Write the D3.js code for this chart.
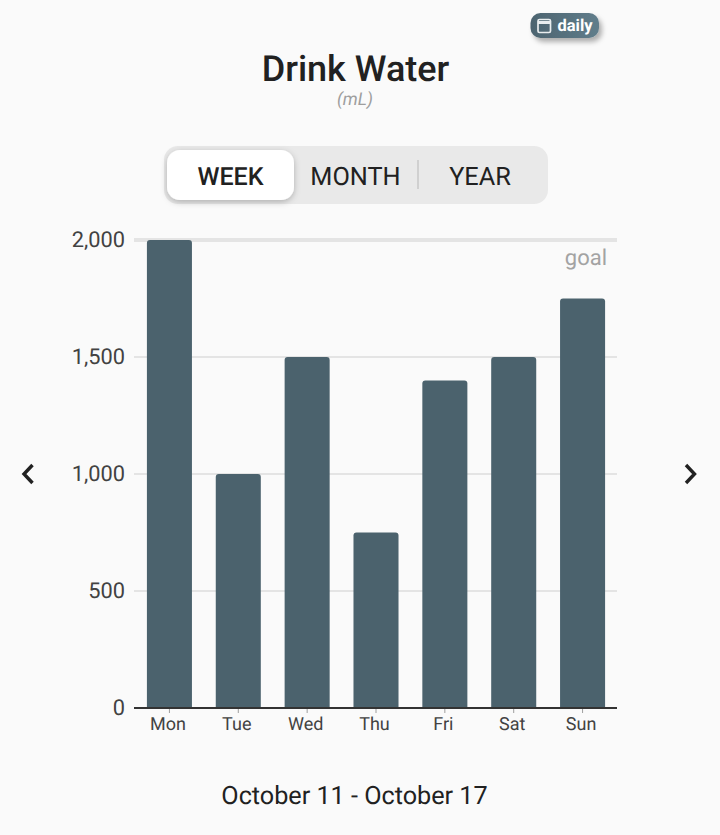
<!DOCTYPE html>
<html><head><meta charset="utf-8">
<script src="https://cdn.jsdelivr.net/npm/d3@7"></script>
<style>html,body{margin:0;padding:0;background:#fafafa;overflow:hidden}svg{display:block;font-family:Roboto,sans-serif;text-rendering:geometricPrecision}</style>
</head><body><svg id="c" width="720" height="835"></svg>
<script>
const days = ["Mon","Tue","Wed","Thu","Fri","Sat","Sun"];
const values = [2000,1000,1500,750,1400,1500,1750];
const yTicks = [0,500,1000,1500,2000];
const tabs = ["WEEK","MONTH","YEAR"];
const title = "Drink Water", unit = "(mL)", dateRange = "October 11 - October 17";

const svg = d3.select("#c");
const defs = svg.append("defs");
const sh = (id,dx,dy,blur,op)=>{const f=defs.append("filter").attr("id",id).attr("x","-30%").attr("y","-50%").attr("width","160%").attr("height","220%");
  f.append("feDropShadow").attr("dx",dx).attr("dy",dy).attr("stdDeviation",blur).attr("flood-color","#000").attr("flood-opacity",op);};
sh("s1",0,2,3,0.25); sh("s2",3,4,2.5,0.3);
const g = defs.append("linearGradient").attr("id","badge");
g.append("stop").attr("offset","0").attr("stop-color","#4d6470");
g.append("stop").attr("offset","1").attr("stop-color","#607d8b");

const x = d3.scaleBand().domain(days).range([135,617]).paddingInner(0.346).paddingOuter(0.173);
const y = d3.scaleLinear().domain([0,2000]).range([708,240]);

// badge
svg.append("rect").attr("x",530.5).attr("y",13).attr("width",68.5).attr("height",25).attr("rx",10).attr("fill","url(#badge)").attr("filter","url(#s2)");
const cal = svg.append("g").attr("fill","none").attr("stroke","#e9edef").attr("stroke-width",1.7);
cal.append("rect").attr("x",538).attr("y",19.5).attr("width",12.5).attr("height",13).attr("rx",1.5);
cal.append("path").attr("d","M538 22.5H550.5").attr("stroke-width",3);
svg.append("text").attr("x",557.5).attr("y",30.5).attr("font-size",16.5).attr("font-weight",700).attr("fill","#fff").text("daily");

// titles
svg.append("text").attr("x",355.5).attr("y",81).attr("text-anchor","middle").attr("font-size",36).attr("font-weight",500).attr("fill","#212121").text(title);
svg.append("text").attr("x",355).attr("y",105).attr("text-anchor","middle").attr("font-size",17.6).attr("font-style","italic").attr("fill","#9e9e9e").text(unit);

// segmented control
svg.append("rect").attr("x",164).attr("y",146).attr("width",384).attr("height",58).attr("rx",14).attr("fill","#e9e9e9");
svg.append("rect").attr("x",167).attr("y",150).attr("width",127).attr("height",50).attr("rx",13).attr("fill","#fff").attr("filter","url(#s1)");
svg.append("rect").attr("x",417).attr("y",160).attr("width",2).attr("height",29).attr("fill","#d0d0d0");
const tabX=[230.5,355.5,480];
svg.selectAll("text.tab").data(tabs).join("text").attr("class","tab")
  .attr("x",(d,i)=>tabX[i]).attr("y",184.5).attr("text-anchor","middle").attr("font-size",(d,i)=>i===0?25:25.3)
  .attr("font-weight",(d,i)=>i===0?500:400).attr("fill","#212121").text(d=>d);

// grid
svg.append("g").selectAll("line").data(yTicks.filter(d=>d>0)).join("line")
  .attr("x1",134).attr("x2",617).attr("y1",d=>y(d)).attr("y2",d=>y(d))
  .attr("stroke","#e4e4e4").attr("stroke-width",d=>d===2000?4:2);

svg.append("text").attr("x",607).attr("y",265).attr("text-anchor","end").attr("font-size",22).attr("fill","#a3a3a3").text("goal");

// bars
svg.append("g").selectAll("path").data(days).join("path")
  .attr("fill","#4b626d")
  .attr("d",(d,i)=>{const a=x(d),w=x.bandwidth(),t=y(values[i]),b=y(0),r=3;
    return `M${a} ${b}V${t+r}Q${a} ${t} ${a+r} ${t}H${a+w-r}Q${a+w} ${t} ${a+w} ${t+r}V${b}Z`;});

// y axis
const ya = d3.axisLeft(y).tickValues(yTicks).tickFormat(d3.format(",")).tickSize(0).tickPadding(9);
const yg = svg.append("g").attr("transform","translate(134,0)").call(ya);
yg.select(".domain").remove();
yg.selectAll("text").attr("font-size",21.8).attr("fill","#424242").attr("font-family","Roboto");

// x axis
const xa = d3.axisBottom(x).tickSize(5).tickPadding(4);
const xg = svg.append("g").attr("transform","translate(0,708)").call(xa);
xg.select(".domain").remove();
xg.selectAll("line").attr("stroke","#9e9e9e");
xg.selectAll("text").attr("font-size",18).attr("fill","#424242").attr("font-family","Roboto").attr("dx",-1.5);
svg.append("line").attr("x1",134).attr("x2",617).attr("y1",708).attr("y2",708).attr("stroke","#333").attr("stroke-width",2);

// date
svg.append("text").attr("x",354.5).attr("y",804).attr("text-anchor","middle").attr("font-size",25.2).attr("fill","#212121").text(dateRange);

// chevrons
const chev=svg.append("g").attr("fill","none").attr("stroke","#212121").attr("stroke-width",3.4);
chev.append("path").attr("d","M32.5 465L24 474L32.5 483");
chev.append("path").attr("d","M686 465L694.5 474L686 483");
</script></body></html>
